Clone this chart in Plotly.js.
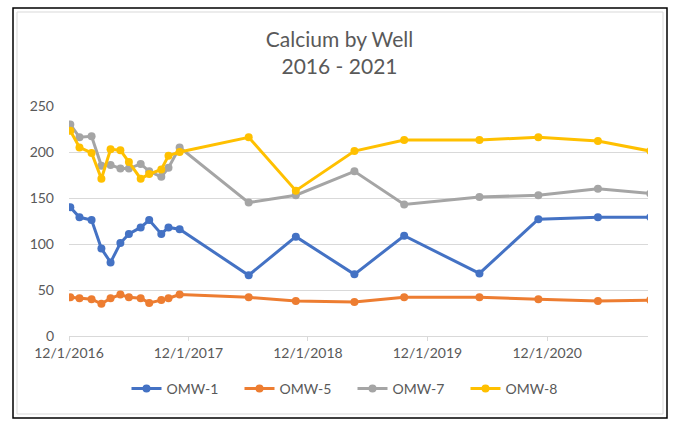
<!DOCTYPE html>
<html>
<head>
<meta charset="utf-8">
<script src="https://cdn.plot.ly/plotly-3.0.1.min.js"></script>
<style>html,body{margin:0;padding:0;background:#fff;}#chart{width:679px;height:423px;}</style>
</head>
<body>
<div id="chart"></div>
<script>
var dates = ['2016-12-05','2017-01-02','2017-02-08','2017-03-10','2017-04-07','2017-05-07','2017-06-02','2017-07-08','2017-08-03','2017-09-09','2017-10-01','2017-11-04',
             '2018-06-03','2018-10-25','2019-04-22','2019-09-21','2020-05-08','2020-11-04','2021-05-05','2021-10-12'];
var omw1 = [140,129,126,95,80,101,111,118,126,111,118,116, 66,108,67,109,68,127,129,129];
var omw5 = [42,41,40,35,41,45,42,41,36,39,41,45, 42,38,37,42,42,40,38,39];
var omw7 = [230,216,217,185,186,182,182,187,179,173,183,205, 145,153,179,143,151,153,160,155];
var omw8 = [223,205,199,171,203,202,189,171,176,181,196,200, 216,158,201,213,213,216,212,201];
var names = ['OMW-1','OMW-5','OMW-7','OMW-8'];
var colors = ['#4472C4','#ED7D31','#A5A5A5','#FFC000'];
var xTicks = ['2016-12-01','2017-12-01','2018-12-01','2019-12-01','2020-12-01'];
var xTickText = ['12/1/2016','12/1/2017','12/1/2018','12/1/2019','12/1/2020'];

var series = [omw1, omw5, omw7, omw8];
var data = series.map(function(s, i){
  return {x: dates, y: s, name: names[i], type: 'scatter', mode: 'lines+markers',
    line: {color: colors[i], width: 3}, marker: {color: colors[i], size: 8}};
});

var L = 69, R = 648, T = 106, B = 336;
function px(x){ return (x - L) / (R - L); }
function py(y){ return (B - y) / (B - T); }

var layout = {
  width: 679, height: 423,
  margin: {l: L, r: 679 - R, t: T, b: 423 - B, pad: 0},
  paper_bgcolor: '#ffffff', plot_bgcolor: '#ffffff',
  font: {family: 'Lato, "Open Sans", sans-serif', color: '#595959', size: 13},
  title: {text: 'Calcium by Well<br>2016 - 2021', font: {size: 21, color: '#595959'},
          x: 0.5, xanchor: 'center', y: 0.89, yanchor: 'bottom'},
  xaxis: {type: 'date', range: ['2016-12-01','2021-10-05'], tickvals: xTicks, ticktext: xTickText,
          showgrid: false, showline: true, linecolor: '#d9d9d9', linewidth: 1,
          ticks: 'outside', ticklen: 4, tickcolor: '#d9d9d9', zeroline: false,
          tickfont: {size: 14, color: '#595959'}, fixedrange: true},
  yaxis: {range: [0, 250], dtick: 50, tick0: 0, showgrid: true, gridcolor: '#d9d9d9', gridwidth: 1,
          zeroline: false, showline: false, ticks: '', ticklabelstandoff: 14,
          tickfont: {size: 14, color: '#595959'}, fixedrange: true},
  showlegend: true,
  legend: {orientation: 'h', x: 0.5 - 6 / 579, xanchor: 'center', y: py(389), yanchor: 'middle',
           font: {size: 14, color: '#595959'}, entrywidth: 68, entrywidthmode: 'pixels', traceorder: 'normal'},
  shapes: [
    {type: 'rect', xref: 'paper', yref: 'paper', x0: px(13), x1: px(667), y0: py(418), y1: py(8),
     line: {color: '#000000', width: 1.5}, layer: 'above'},
    {type: 'rect', xref: 'paper', yref: 'paper', x0: px(17), x1: px(663), y0: py(414), y1: py(12),
     line: {color: '#d9d9d9', width: 1}, layer: 'above'}
  ]
};

Plotly.newPlot('chart', data, layout, {displayModeBar: false, staticPlot: true});
</script>
</body>
</html>
